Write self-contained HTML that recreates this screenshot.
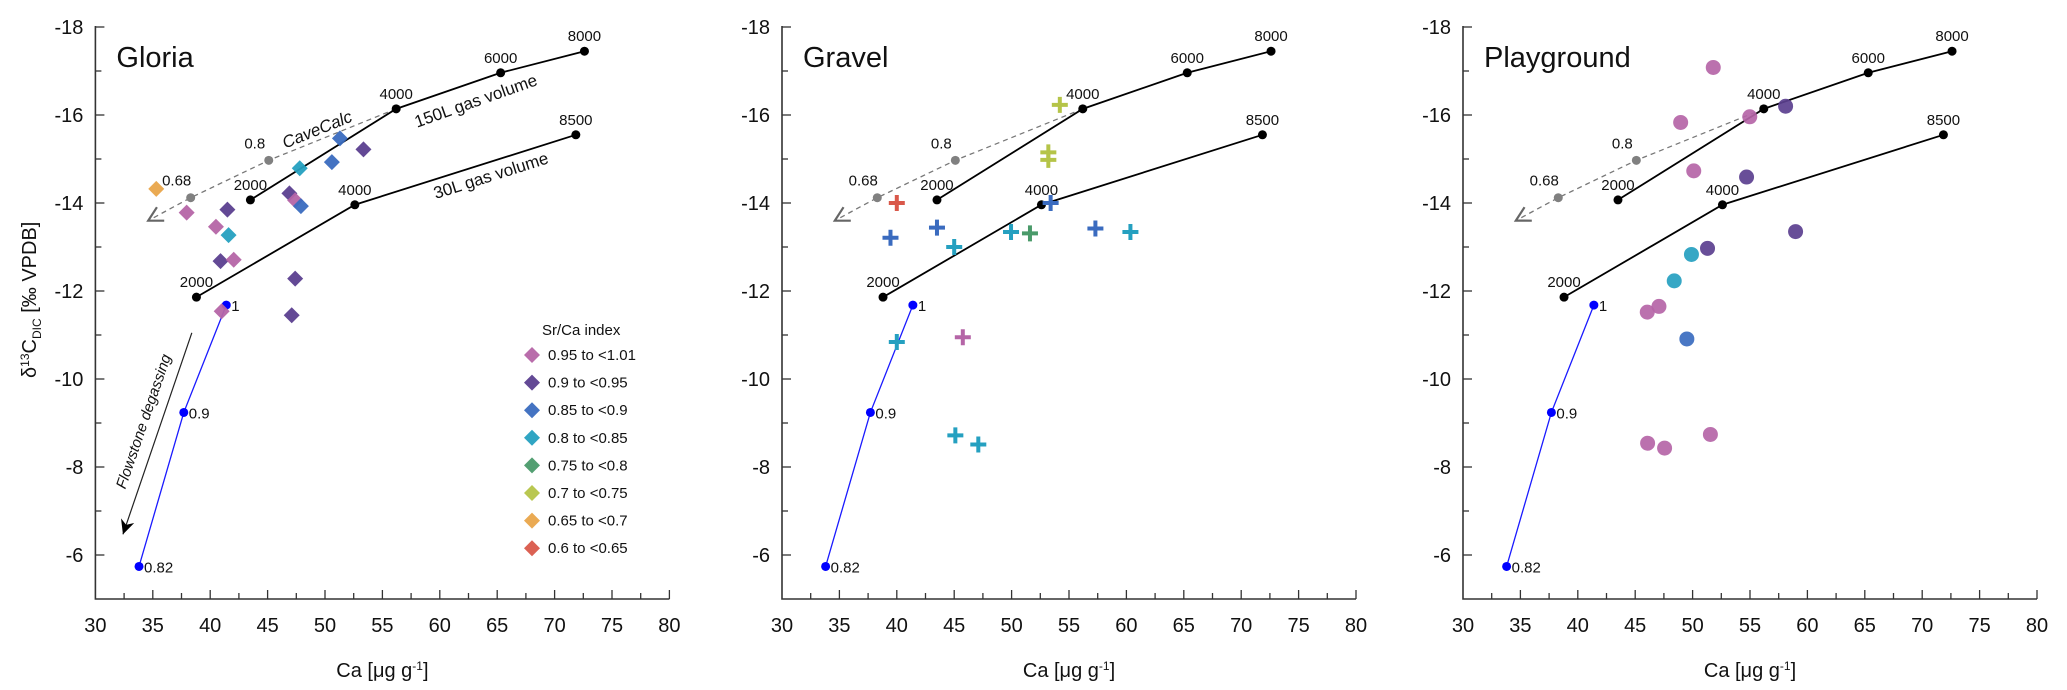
<!DOCTYPE html>
<html><head><meta charset="utf-8"><style>
html,body{margin:0;padding:0;background:#fff;}
svg{display:block;font-family:"Liberation Sans",sans-serif;}
</style></head><body>
<svg id="chart" width="2067" height="690" viewBox="0 0 2067 690"></svg>
<script>
// shared model curves
const curve150x=[43.5,56.2,65.3,72.6];
const curve150y=[-14.07,-16.14,-16.96,-17.45];
const curve150lab=["2000","4000","6000","8000"];
const curve30x=[38.8,52.6,71.85];
const curve30y=[-11.86,-13.96,-15.55];
const curve30lab=["2000","4000","8500"];
const blueX=[41.4,37.7,33.8];
const blueY=[-11.68,-9.24,-5.74];
const blueLab=["1","0.9","0.82"];
const grayX=[45.1,38.3];
const grayY=[-14.97,-14.12];
const grayLab=["0.8","0.68"];
const xTicks=[30,35,40,45,50,55,60,65,70,75,80];
const yTicks=[-18,-16,-14,-12,-10,-8,-6];
const legendLabels=["0.95 to <1.01","0.9 to <0.95","0.85 to <0.9","0.8 to <0.85","0.75 to <0.8","0.7 to <0.75","0.65 to <0.7","0.6 to <0.65"];
const classColors=["#b565a7","#5b3f8f","#3a6bbf","#25a0c0","#4a9a6a","#b5c448","#e9a54a","#d9584a"];
// Gloria (diamonds)
const gloriaX=[35.3,37.95,40.5,41.5,41.6,40.9,42.05,41.0,46.9,47.4,47.9,47.8,50.6,51.3,53.35,47.4,47.1];
const gloriaY=[-14.32,-13.78,-13.46,-13.85,-13.27,-12.68,-12.71,-11.54,-14.22,-14.06,-13.93,-14.79,-14.93,-15.47,-15.22,-12.28,-11.45];
const gloriaC=[6,0,0,1,3,1,0,0,1,0,2,3,2,2,1,1,1];
// Gravel (crosses)
const gravelX=[40.0,39.45,43.5,45.0,49.95,51.6,53.4,54.2,53.2,53.2,40.0,45.75,45.1,47.1,57.3,60.35];
const gravelY=[-14.0,-13.21,-13.44,-13.0,-13.34,-13.31,-14.0,-16.23,-15.15,-14.98,-10.84,-10.95,-8.72,-8.51,-13.42,-13.34];
const gravelC=[7,2,2,3,3,4,2,5,5,5,3,0,3,3,2,3];
// Playground (circles)
const playX=[51.8,48.96,54.98,58.1,50.1,54.7,58.97,51.3,49.9,48.4,47.07,46.05,49.5,51.55,46.08,47.56];
const playY=[-17.08,-15.83,-15.96,-16.2,-14.73,-14.59,-13.35,-12.97,-12.83,-12.23,-11.65,-11.52,-10.91,-8.74,-8.54,-8.43];
const playC=[0,0,0,1,0,1,1,1,3,3,0,0,2,0,0,0];

const NS="http://www.w3.org/2000/svg";
const svg=document.getElementById('chart');
function mk(tag,attrs,parent,text){const e=document.createElementNS(NS,tag);for(const k in attrs)e.setAttribute(k,attrs[k]);if(text!==undefined)e.textContent=text;parent.appendChild(e);return e;}
const Y0=27, PXY=44, PXX=11.48;
function yS(v){return Y0+(v+18)*PXY;}

function panel(x0,name,title,px,py,pc,shape,legend){
  const g=mk('g',{},svg);
  
  
  const xS=v=>x0+(v-30)*PXX;
  const yb=yS(-5);
  const ax=mk('path',{d:`M${x0},${yS(-18)-1}V${yb}H${xS(80)}`,stroke:'#333','stroke-width':1.6,fill:'none'},g);
  
  for(let v=-18;v<=-6;v++){const maj=(v%2===0);mk('line',{x1:x0,x2:x0+(maj?9:6),y1:yS(v),y2:yS(v),stroke:'#333','stroke-width':1.3},g);}
  yTicks.forEach(v=>{const t=mk('text',{x:x0-12,y:yS(v)+7,'text-anchor':'end','font-size':20,fill:'#111'},g,String(v));
    });
  for(let v=32.5;v<80;v+=2.5){const maj=(v%5===0);mk('line',{x1:xS(v),x2:xS(v),y1:yb,y2:yb-(maj?9:6),stroke:'#333','stroke-width':1.3},g);}
  mk('line',{x1:xS(80),x2:xS(80),y1:yb,y2:yb-9,stroke:'#333','stroke-width':1.3},g);
  xTicks.forEach(v=>{const t=mk('text',{x:xS(v),y:yb+33,'text-anchor':'middle','font-size':20,fill:'#111'},g,String(v));
    });
  const xt=mk('text',{x:xS(55),y:yb+78,'text-anchor':'middle','font-size':20,fill:'#111'},g);
  
  xt.innerHTML='Ca [μg g<tspan dy="-7" font-size="12">-1</tspan><tspan dy="7">]</tspan>';
  const tt=mk('text',{x:x0+21,y:67,'font-size':29,fill:'#111'},g,title);
  
  const gpts=[[curve150x[1],curve150y[1]]].concat(grayX.map((v,i)=>[v,grayY[i]]));
  const endX=34.6,endY=-13.6;
  const gl=mk('polyline',{points:gpts.map(p=>xS(p[0])+','+yS(p[1])).join(' ')+' '+xS(endX)+','+yS(endY),fill:'none',stroke:'#777','stroke-width':1.3,'stroke-dasharray':'5,4'},g);
  
  const ex=xS(endX),ey=yS(endY),ang=Math.atan2(ey-yS(grayY[1]),ex-xS(grayX[1]));
  const a1=ang+Math.PI-0.5,a2=ang+Math.PI+0.5;
  mk('polyline',{points:`${ex+16*Math.cos(a1)},${ey+16*Math.sin(a1)} ${ex},${ey} ${ex+16*Math.cos(a2)},${ey+16*Math.sin(a2)}`,fill:'none',stroke:'#666','stroke-width':2.2},g);
  grayX.forEach((v,i)=>{const c=mk('circle',{cx:xS(v),cy:yS(grayY[i]),r:4.5,fill:'#808080'},g);
    
    mk('text',{x:xS(v)-14,y:yS(grayY[i])-12,'font-size':15,'text-anchor':'middle',fill:'#111'},g,grayLab[i]);});
  [[curve150x,curve150y,curve150lab,'150l-curve'],[curve30x,curve30y,curve30lab,'30l-curve']].forEach(([cx,cy,lab,nm])=>{
    const l=mk('polyline',{points:cx.map((v,i)=>xS(v)+','+yS(cy[i])).join(' '),fill:'none',stroke:'#000','stroke-width':1.8},g);
    
    cx.forEach((v,i)=>{mk('circle',{cx:xS(v),cy:yS(cy[i]),r:4.5,fill:'#000'},g);
      mk('text',{x:xS(v),y:yS(cy[i])-10,'font-size':15,'text-anchor':'middle',fill:'#111'},g,lab[i]);});
  });
  const bl=mk('polyline',{points:blueX.map((v,i)=>xS(v)+','+yS(blueY[i])).join(' '),fill:'none',stroke:'#1a1aff','stroke-width':1.3},g);
  
  blueX.forEach((v,i)=>{mk('circle',{cx:xS(v),cy:yS(blueY[i]),r:4.5,fill:'#0000ff'},g);
    mk('text',{x:xS(v)+5,y:yS(blueY[i])+6,'font-size':15,fill:'#111'},g,blueLab[i]);});
  if(legend){
    function rot(txt,xv,yv,a,fs,st,nm){const t=mk('text',{x:0,y:0,'font-size':fs,'text-anchor':'middle',fill:'#111','font-style':st||'normal',transform:`translate(${xS(xv)},${yS(yv)}) rotate(${a})`},g,txt);
      }
    rot('150L gas volume',63.3,-16.2,-19.5,17,'normal','label-150l');
    rot('30L gas volume',64.6,-14.5,-17.6,17,'normal','label-30l');
    rot('CaveCalc',49.5,-15.55,-22,17,'italic','label-cavecalc');
    rot('Flowstone degassing',34.6,-9.0,-71,15,'italic','label-flowstone');
    const ax1=xS(38.4),ay1=yS(-11.05),ax2=xS(32.4),ay2=yS(-6.47);
    mk('line',{x1:ax1,y1:ay1,x2:ax2,y2:ay2,stroke:'#222','stroke-width':1.2},g);
    const an=Math.atan2(ay2-ay1,ax2-ax1);
    mk('path',{d:`M${ax2},${ay2} L${ax2-16*Math.cos(an-0.45)},${ay2-16*Math.sin(an-0.45)} L${ax2-10*Math.cos(an)},${ay2-10*Math.sin(an)} L${ax2-16*Math.cos(an+0.45)},${ay2-16*Math.sin(an+0.45)}Z`,fill:'#000'},g);
    const lg=mk('g',{},g);
    
    mk('text',{x:542,y:335,'font-size':15,fill:'#111'},lg,'Sr/Ca index');
    legendLabels.forEach((s,i)=>{const yy=355+i*27.6;
      const e=mk('g',{},lg);
      
      mk('path',{d:`M532,${yy-8}L540,${yy}L532,${yy+8}L524,${yy}Z`,fill:classColors[i],opacity:0.95},e);
      mk('text',{x:548,y:yy+5,'font-size':15,fill:'#111'},e,s);});
  }
  px.forEach((v,i)=>{const X=xS(v),Y=yS(py[i]),c=classColors[pc[i]];let m;
    if(shape==='diamond')m=mk('path',{d:`M${X},${Y-8}L${X+8},${Y}L${X},${Y+8}L${X-8},${Y}Z`,fill:c,opacity:0.95},g);
    else if(shape==='cross')m=mk('path',{d:`M${X-8},${Y}H${X+8}M${X},${Y-8}V${Y+8}`,stroke:c,'stroke-width':4,fill:'none'},g);
    else m=mk('ellipse',{cx:X,cy:Y,rx:7.5,ry:7.5,fill:c,opacity:0.92},g);
    
    
  });
}
panel(95.4,'gloria','Gloria',gloriaX,gloriaY,gloriaC,'diamond',true);
panel(782,'gravel','Gravel',gravelX,gravelY,gravelC,'cross',false);
panel(1463,'playground','Playground',playX,playY,playC,'circle',false);
const yt=mk('text',{x:0,y:0,'font-size':20,'text-anchor':'middle',fill:'#111',transform:`translate(36,${yS(-11.8)}) rotate(-90)`},svg);


yt.innerHTML='δ<tspan dy="-7" font-size="12">13</tspan><tspan dy="7">C</tspan><tspan dy="5" font-size="12">DIC</tspan><tspan dy="-5"> [‰ VPDB]</tspan>';
</script>
</body></html>
